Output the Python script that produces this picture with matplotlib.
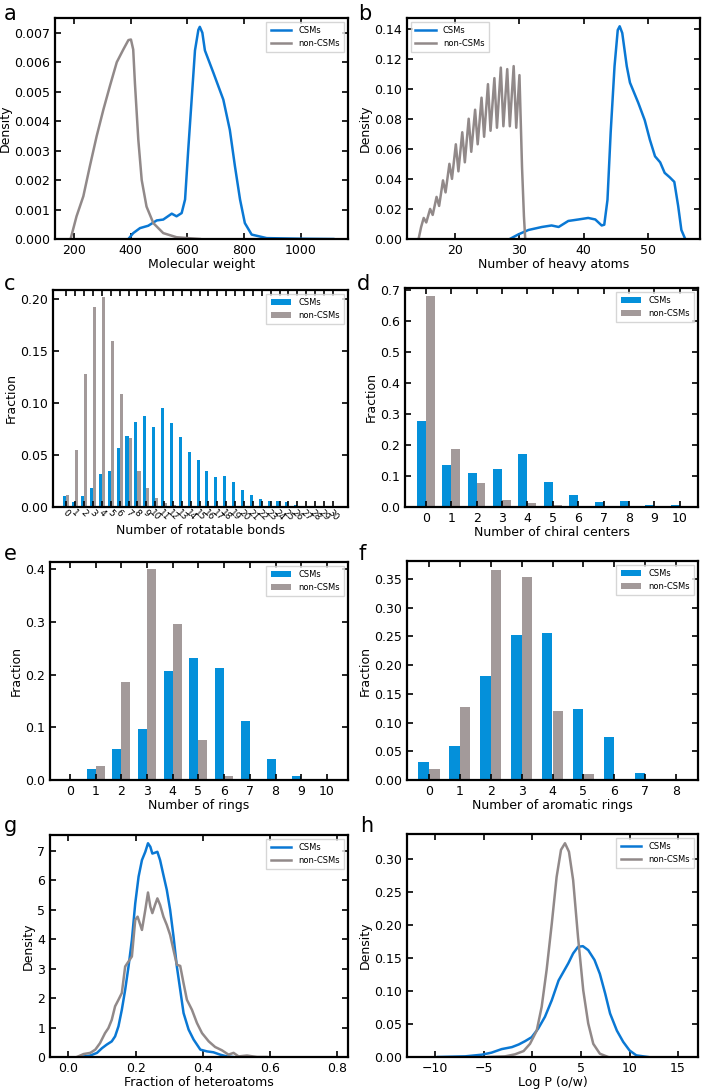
import numpy as np
import matplotlib
matplotlib.use('Agg')
import matplotlib.pyplot as plt

BLUE_LINE = '#0a78d4'
GRAY_LINE = '#918989'
BLUE_BAR = '#0490da'
GRAY_BAR = '#a39a9a'

# a: molecular weight density
mw_csm_x = [392, 409, 433, 462, 492, 515, 545, 562, 580, 592, 603, 615, 627, 639, 644, 653, 662,
            692, 727, 750, 768, 786, 803, 827, 880, 997, 1115]
mw_csm_y = [0, 0.0002, 0.00037, 0.00045, 0.00063, 0.00066, 0.00086, 0.00077, 0.00088, 0.00134,
            0.0030, 0.0047, 0.0064, 0.0071, 0.0072, 0.0070, 0.0064, 0.00564, 0.00473, 0.0037,
            0.00247, 0.00134, 0.00054, 0.00015, 0.00003, 0.00001, 0]
mw_non_x = [188, 209, 233, 256, 280, 304, 327, 351, 374, 392, 401, 409, 415, 427, 439, 456, 480,
            515, 562, 644]
mw_non_y = [0, 0.00077, 0.00145, 0.00247, 0.00349, 0.0044, 0.0052, 0.0060, 0.00643, 0.00675,
            0.00677, 0.00643, 0.0053, 0.00337, 0.0020, 0.0011, 0.00054, 0.0002, 0.00006, 0]

# b: heavy atoms density
ha_csm_x = [28.5, 29.8, 31.4, 33.5, 35.0, 36.1, 37.6, 39.2, 40.7, 41.8, 42.8, 43.2, 43.7, 44.2,
            44.8, 45.3, 45.6, 46.0, 46.7, 47.2, 48.5, 49.5, 50.3, 51.1, 51.9, 52.6, 53.4, 54.1,
            54.7, 55.2, 55.8]
ha_csm_y = [0, 0.003, 0.006, 0.008, 0.009, 0.008, 0.012, 0.013, 0.014, 0.013, 0.009, 0.0095,
            0.026, 0.071, 0.115, 0.139, 0.1415, 0.137, 0.115, 0.104, 0.0905, 0.079, 0.066, 0.055,
            0.051, 0.044, 0.041, 0.038, 0.022, 0.006, 0]
ha_non_x = [14.3, 14.7, 15.1, 15.5, 16.1, 16.5, 17.1, 17.5, 18.1, 18.5, 19.1, 19.5, 20.1, 20.5,
            21.1, 21.5, 22.1, 22.5, 23.1, 23.5, 24.1, 24.5, 25.1, 25.5, 26.1, 26.5, 27.1, 27.5,
            28.1, 28.5, 29.1, 29.5, 30.0, 30.4, 30.7, 30.9]
ha_non_y = [0, 0.008, 0.014, 0.011, 0.020, 0.016, 0.028, 0.022, 0.039, 0.031, 0.050, 0.040,
            0.063, 0.045, 0.071, 0.051, 0.080, 0.058, 0.086, 0.063, 0.094, 0.068, 0.103, 0.072,
            0.107, 0.074, 0.114, 0.075, 0.113, 0.075, 0.115, 0.074, 0.109, 0.048, 0.015, 0]

# c: rotatable bonds
rot_bins = list(range(31))
rot_csm = [0.011, 0.005, 0.011, 0.018, 0.032, 0.0345, 0.057, 0.068, 0.082, 0.088, 0.0775, 0.095,
           0.0806, 0.067, 0.0525, 0.045, 0.0345, 0.0285, 0.030, 0.024, 0.016, 0.012, 0.0075,
           0.006, 0.0055, 0.005, 0.002, 0.001, 0.0005, 0.0005, 0.0003]
rot_non = [0.012, 0.055, 0.1277, 0.193, 0.202, 0.160, 0.109, 0.066, 0.035, 0.0186, 0.009, 0.004,
           0.002, 0.001, 0.0005, 0.0003, 0.0002, 0.0001, 0, 0, 0, 0, 0, 0, 0, 0, 0, 0, 0, 0, 0]

# d: chiral centers
chi_bins = list(range(11))
chi_csm = [0.279, 0.137, 0.111, 0.122, 0.170, 0.080, 0.038, 0.015, 0.0205, 0.0055, 0.0065]
chi_non = [0.681, 0.189, 0.079, 0.024, 0.014, 0.0065, 0.002, 0.001, 0.0005, 0, 0]

# e: rings
ring_bins = list(range(11))
ring_csm = [0.001, 0.020, 0.058, 0.097, 0.207, 0.231, 0.213, 0.112, 0.040, 0.0076, 0.0025]
ring_non = [0.002, 0.0265, 0.186, 0.400, 0.297, 0.076, 0.0076, 0.001, 0, 0, 0]

# f: aromatic rings
aro_bins = list(range(9))
aro_csm = [0.032, 0.060, 0.181, 0.252, 0.256, 0.124, 0.075, 0.013, 0.001]
aro_non = [0.019, 0.127, 0.366, 0.354, 0.120, 0.0104, 0, 0, 0]

# g: fraction of heteroatoms
het_csm_x = [0.035, 0.065, 0.085, 0.10, 0.114, 0.129, 0.139, 0.149, 0.159, 0.169, 0.179, 0.189,
             0.199, 0.209, 0.219, 0.229, 0.237, 0.244, 0.25, 0.258, 0.265, 0.273, 0.283, 0.293,
             0.303, 0.313, 0.323, 0.333, 0.343, 0.358, 0.373, 0.393, 0.413, 0.432, 0.452, 0.472,
             0.49]
het_csm_y = [0, 0.05, 0.14, 0.30, 0.42, 0.53, 0.70, 1.04, 1.60, 2.28, 3.07, 3.97, 5.21, 6.12,
             6.68, 6.96, 7.25, 7.13, 6.9, 6.93, 6.96, 6.68, 6.17, 5.67, 4.99, 4.09, 3.07, 2.28,
             1.49, 0.93, 0.59, 0.25, 0.19, 0.16, 0.08, 0.02, 0]
het_non_x = [0.025, 0.045, 0.065, 0.08, 0.094, 0.109, 0.119, 0.129, 0.139, 0.149, 0.159, 0.169,
             0.179, 0.189, 0.199, 0.206, 0.219, 0.229, 0.237, 0.244, 0.25, 0.258, 0.265, 0.273,
             0.283, 0.293, 0.303, 0.313, 0.323, 0.333, 0.343, 0.353, 0.368, 0.383, 0.398, 0.418,
             0.437, 0.457, 0.477, 0.492, 0.507, 0.532, 0.562, 0.59]
het_non_y = [0, 0.1, 0.14, 0.25, 0.47, 0.81, 0.98, 1.26, 1.72, 1.94, 2.17, 3.07, 3.24, 3.41,
             4.65, 4.76, 4.31, 4.99, 5.58, 5.1, 4.88, 5.16, 5.38, 5.16, 4.76, 4.48, 4.14, 3.63,
             3.13, 3.09, 2.5, 1.94, 1.60, 1.15, 0.81, 0.53, 0.34, 0.23, 0.08, 0.14, 0.02, 0.05,
             0, 0]

# h: log P
logp_csm_x = [-9.7, -6.9, -5.2, -4.2, -3.15, -2.1, -1.4, -0.75, -0.07, 0.6, 1.3, 2.0, 2.7, 3.2,
              3.7, 4.2, 4.7, 5.2, 5.75, 6.4, 6.95, 7.5, 8.0, 8.7, 9.35, 10.0, 10.7, 11.9]
logp_csm_y = [0, 0.001, 0.0035, 0.0066, 0.012, 0.015, 0.019, 0.024, 0.030, 0.043, 0.061, 0.086,
              0.116, 0.129, 0.142, 0.157, 0.167, 0.168, 0.162, 0.147, 0.126, 0.096, 0.066, 0.040,
              0.023, 0.010, 0.0025, 0]
logp_non_x = [-4.5, -2.8, -1.8, -0.9, -0.24, 0.45, 0.96, 1.47, 2.0, 2.5, 2.95, 3.36, 3.77, 4.2,
              4.7, 5.24, 5.75, 6.27, 6.95, 7.8]
logp_non_y = [0, 0.001, 0.004, 0.009, 0.020, 0.040, 0.076, 0.132, 0.202, 0.273, 0.314, 0.324,
              0.311, 0.268, 0.182, 0.101, 0.051, 0.020, 0.005, 0]

W, H = 713, 1089
fig = plt.figure(figsize=(W / 100, H / 100), dpi=100)


def make_ax(left, right, top, bottom):
    ax = fig.add_axes([left / W, 1 - bottom / H, (right - left) / W, (bottom - top) / H])
    ax.tick_params(direction='in', top=True, right=True, length=4, width=1.2, labelsize=9)
    for s in ax.spines.values():
        s.set_linewidth(1.6)
    return ax


def style(ax, xlabel, ylabel, legend_loc='upper right'):
    ax.set_xlabel(xlabel, fontsize=9, labelpad=1)
    ax.set_ylabel(ylabel, fontsize=9, labelpad=2)
    leg = ax.legend(loc=legend_loc, fontsize=6, frameon=True, fancybox=False,
                    handlelength=2.5, borderpad=0.5, labelspacing=0.45)
    leg.get_frame().set_edgecolor('#cccccc')
    leg.get_frame().set_linewidth(1.0)


def bars(ax, bins, csm, non):
    x = np.array(bins)
    ax.bar(x - 0.175, csm, width=0.35, color=BLUE_BAR, label='CSMs')
    ax.bar(x + 0.175, non, width=0.35, color=GRAY_BAR, label='non-CSMs')


# a
ax = make_ax(55, 348, 18, 239)
ax.plot(mw_csm_x, mw_csm_y, color=BLUE_LINE, lw=1.8, label='CSMs')
ax.plot(mw_non_x, mw_non_y, color=GRAY_LINE, lw=1.8, label='non-CSMs')
ax.set_xlim(133, 1167)
ax.set_ylim(0, 0.0075)
ax.set_xticks([200, 400, 600, 800, 1000])
ax.set_yticks(np.arange(0, 0.0071, 0.001))
ax.set_yticklabels(['%.3f' % v for v in np.arange(0, 0.0071, 0.001)])
style(ax, 'Molecular weight', 'Density')

# b
ax = make_ax(407, 700, 18, 239)
ax.plot(ha_csm_x, ha_csm_y, color=BLUE_LINE, lw=1.8, label='CSMs')
ax.plot(ha_non_x, ha_non_y, color=GRAY_LINE, lw=1.8, label='non-CSMs')
ax.set_xlim(12.5, 58.1)
ax.set_ylim(0, 0.147)
ax.set_xticks([20, 30, 40, 50])
ax.set_yticks(np.arange(0, 0.141, 0.02))
ax.set_yticklabels(['%.2f' % v for v in np.arange(0, 0.141, 0.02)])
style(ax, 'Number of heavy atoms', 'Density', legend_loc='upper left')

# c
ax = make_ax(53, 348, 290, 507)
bars(ax, rot_bins, rot_csm, rot_non)
ax.set_xlim(-1.5, 31.7)
ax.set_ylim(0, 0.209)
ax.set_xticks(rot_bins)
ax.set_xticklabels([str(b) for b in rot_bins], rotation=-45, fontsize=6.5)
ax.tick_params(axis='x', pad=1)
ax.set_yticks([0, 0.05, 0.10, 0.15, 0.20])
ax.set_yticklabels(['0.00', '0.05', '0.10', '0.15', '0.20'])
style(ax, 'Number of rotatable bonds', 'Fraction')

# d
ax = make_ax(405, 698, 288, 507)
bars(ax, chi_bins, chi_csm, chi_non)
ax.set_xlim(-0.82, 10.72)
ax.set_ylim(0, 0.708)
ax.set_xticks(chi_bins)
ax.set_yticks(np.arange(0, 0.71, 0.1))
ax.set_yticklabels(['%.1f' % v for v in np.arange(0, 0.71, 0.1)])
style(ax, 'Number of chiral centers', 'Fraction')

# e
ax = make_ax(50, 348, 562, 780)
bars(ax, ring_bins, ring_csm, ring_non)
ax.set_xlim(-0.78, 10.82)
ax.set_ylim(0, 0.414)
ax.set_xticks(ring_bins)
ax.set_yticks(np.arange(0, 0.41, 0.1))
ax.set_yticklabels(['%.1f' % v for v in np.arange(0, 0.41, 0.1)])
style(ax, 'Number of rings', 'Fraction')

# f
ax = make_ax(407, 698, 561, 780)
bars(ax, aro_bins, aro_csm, aro_non)
ax.set_xlim(-0.70, 8.70)
ax.set_ylim(0, 0.381)
ax.set_xticks(aro_bins)
ax.set_yticks(np.arange(0, 0.351, 0.05))
ax.set_yticklabels(['%.2f' % v for v in np.arange(0, 0.351, 0.05)])
style(ax, 'Number of aromatic rings', 'Fraction')

# g
ax = make_ax(50, 348, 835, 1057)
ax.plot(het_csm_x, het_csm_y, color=BLUE_LINE, lw=1.8, label='CSMs')
ax.plot(het_non_x, het_non_y, color=GRAY_LINE, lw=1.8, label='non-CSMs')
ax.set_xlim(-0.055, 0.833)
ax.set_ylim(0, 7.53)
ax.set_xticks([0.0, 0.2, 0.4, 0.6, 0.8])
ax.set_yticks(range(8))
style(ax, 'Fraction of heteroatoms', 'Density')

# h
ax = make_ax(407, 698, 834, 1057)
ax.plot(logp_csm_x, logp_csm_y, color=BLUE_LINE, lw=1.8, label='CSMs')
ax.plot(logp_non_x, logp_non_y, color=GRAY_LINE, lw=1.8, label='non-CSMs')
ax.set_xlim(-12.9, 17.05)
ax.set_ylim(0, 0.338)
ax.set_xticks([-10, -5, 0, 5, 10, 15])
ax.set_yticks(np.arange(0, 0.31, 0.05))
ax.set_yticklabels(['%.2f' % v for v in np.arange(0, 0.31, 0.05)])
style(ax, 'Log P (o/w)', 'Density')

# panel letters
for letter, px, py in [('a', 4, 14), ('b', 358, 14), ('c', 4, 284), ('d', 357, 284),
                       ('e', 4, 554), ('f', 359, 554), ('g', 4, 826), ('h', 360, 826)]:
    fig.text(px / W, 1 - py / H, letter, fontsize=15, ha='left', va='center')

fig.savefig('out.png', dpi=100)
